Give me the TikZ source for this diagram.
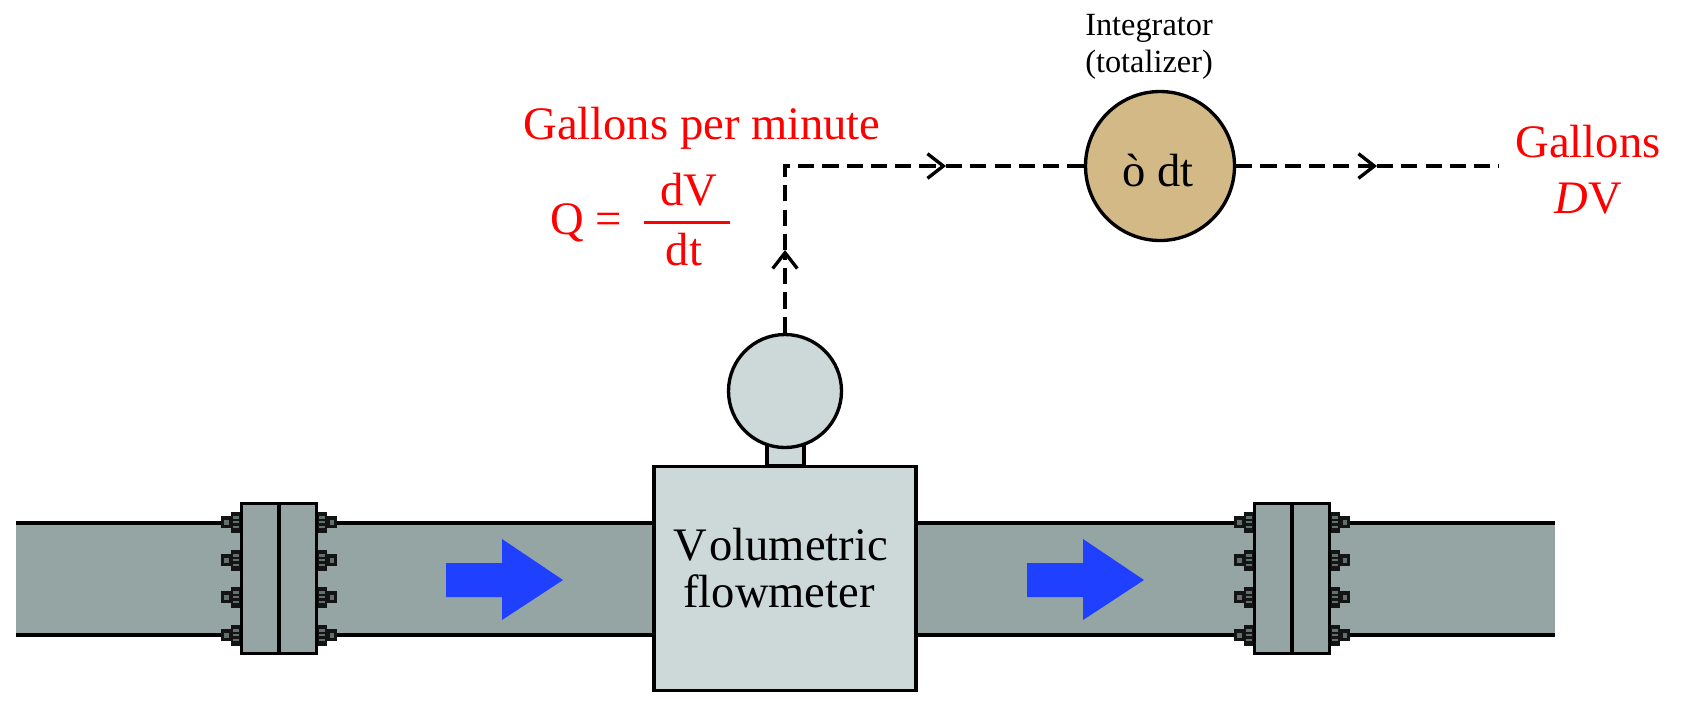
\documentclass[tikz,border=0pt]{standalone}
\usepackage{fontspec}
\setmainfont{Liberation Serif}
\usetikzlibrary{arrows.meta}
\definecolor{pipegray}{HTML}{95A5A3}
\definecolor{metergray}{HTML}{CDD8D8}
\definecolor{integtan}{HTML}{D2B985}
\definecolor{flowblue}{HTML}{2040FF}
\definecolor{boltdark}{HTML}{141414}
\definecolor{boltmark}{HTML}{62706E}

\begin{document}
\begin{tikzpicture}[x=0.01cm,y=-0.01cm,>={Straight Barb[length=4.5pt,width=7pt]},
    outline/.style={draw=black,line width=0.95pt},
    flange half/.style={outline,fill=pipegray,rectangle,inner sep=0pt,minimum width=37*0.01cm,minimum height=150.5*0.01cm},
    main block/.style={outline,fill=metergray,rectangle,inner sep=0pt,minimum width=262*0.01cm,minimum height=224*0.01cm},
    gauge node/.style={outline,fill=metergray,circle,inner sep=0pt,minimum size=113*0.01cm},
    integ node/.style={outline,fill=integtan,circle,inner sep=0pt,minimum size=149*0.01cm,font=\fontsize{13.25}{15}\selectfont},
    big text/.style={inner sep=0pt,anchor=base,font=\fontsize{13.25}{15}\selectfont},
    red text/.style={big text,text=red},
    small text/.style={inner sep=0pt,anchor=base,font=\fontsize{9.2}{10}\selectfont},
    signal/.style={line width=0.95pt,dash pattern=on 4.6pt off 2.3pt}]

            \useasboundingbox (0,0) rectangle (1683,708);

            % pipe
            \fill[pipegray] (16,523) rectangle (1555,635);
            \coordinate (pipeTL) at (16,523);
            \coordinate (pipeTR) at (1555,523);
            \coordinate (pipeBL) at (16,635);
            \coordinate (pipeBR) at (1555,635);
            \draw[outline] (pipeTL) -- (pipeTR);
            \draw[outline] (pipeBL) -- (pipeBR);

            % flanges and bolts
            \foreach \fx/\fname in {279/a,1292/b} {
                \foreach \by in {522,560,597,635} {
                    \foreach \s in {-1,1} {
                        \fill[boltdark] ({\fx+\s*37},{\by-10.5}) rectangle ({\fx+\s*48},{\by+10.5});
                        \fill[boltdark] ({\fx+\s*48},{\by-6}) rectangle ({\fx+\s*58},{\by+6});
                        \fill[boltmark] ({\fx+\s*40},{\by-6}) rectangle ({\fx+\s*46},{\by-3.5});
                        \fill[boltmark] ({\fx+\s*40},{\by-1.2}) rectangle ({\fx+\s*46},{\by+1.2});
                        \fill[boltmark] ({\fx+\s*40},{\by+3.5}) rectangle ({\fx+\s*46},{\by+6});
                        \fill[boltmark] ({\fx+\s*50.5},{\by-2.5}) rectangle ({\fx+\s*55},{\by+2.5});
                    }
                }
                \node[flange half] (flange\fname L) at ({\fx-19},578.5) {};
                \node[flange half] (flange\fname R) at ({\fx+19},578.5) {};
            }

            % flow arrows
            \foreach \ax in {446,1027} {
                \fill[flowblue] (\ax,563) -- ({\ax+56},563) -- ({\ax+56},539) -- ({\ax+117},580)
                    -- ({\ax+56},620) -- ({\ax+56},597) -- (\ax,597) -- cycle;
            }

            % flowmeter
            \draw[outline,fill=metergray] (767,466) rectangle (804,430);
            \node[main block] (meter) at (785,578.5) {};
            \node[gauge node] (gauge) at (785,391) {};
            \node[big text] (meterA) at (780.5,560) {V\kern0.7pt olumetric};
            \node[big text] (meterB) at (779,607) {flowmeter};

            % integrator
            \node[integ node] (integ) at (1160,166) {};
            \node[big text] (integText) at (1158,186) {ò dt};
            \node[small text] (integA) at (1149,35) {Integrator};
            \node[small text] (integB) at (1149,72) {(totalizer)};

            % signal lines
            \coordinate (upTip) at (785,250);
            \coordinate (corner) at (785,166);
            \coordinate (midTip) at (946,166);
            \coordinate (outTip) at (1377,166);
            \coordinate (outEnd) at (1499,166);
            \draw[signal,->] (gauge) -- (upTip);
            \draw[signal,->] (upTip) -- (corner) -- (midTip);
            \draw[signal] (midTip) -- (integ);
            \draw[signal,->] (integ) -- (outTip);
            \draw[signal] (outTip) -- (outEnd);

            % labels
            \node[red text] (gpm) at (702,139) {Gallons per minute};
            \node[red text] (qeq) at (586,234) {Q =};
            \node[red text] (numer) at (689,205) {dV};
            \node[red text] (denom) at (684,265) {dt};
            \coordinate (fracL) at (644,222);
            \coordinate (fracR) at (730,222);
            \draw[red,line width=0.85pt] (fracL) -- (fracR);
            \node[red text] (gal) at (1588,157) {Gallons};
            \node[red text] (delta) at (1588,213) {\textit{D}V};

            ;
        \end{tikzpicture}
\end{document}
